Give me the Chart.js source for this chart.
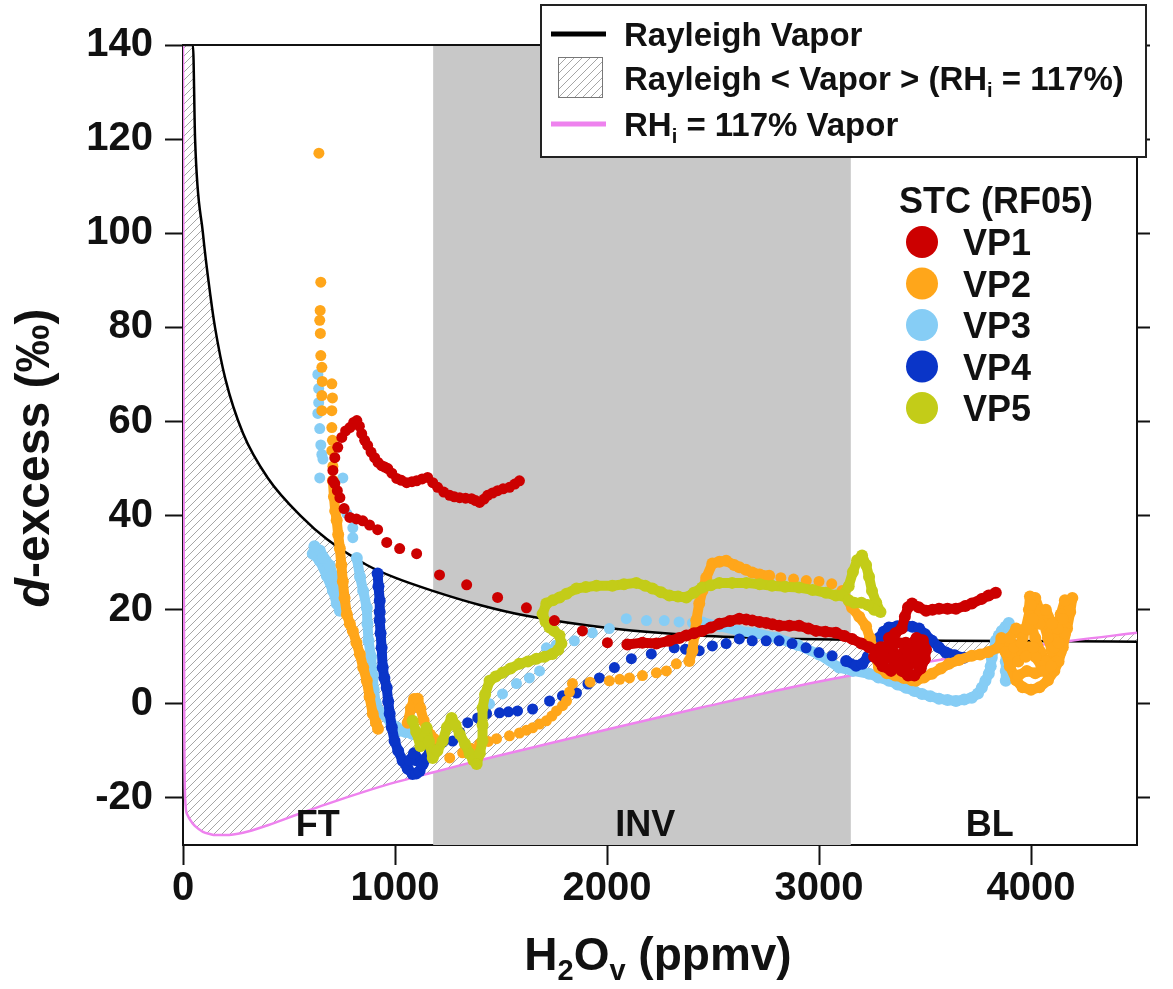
<!DOCTYPE html>
<html>
<head>
<meta charset="utf-8">
<script src="https://cdn.jsdelivr.net/npm/chart.js@4.4.1/dist/chart.umd.min.js"></script>
<style>
  body { margin: 0; background: #fff; }
  #wrap { width: 1173px; height: 989px; position: relative; }
</style>
</head>
<body>
<div id="wrap"><canvas id="dexChart"></canvas></div>
<script>
// axis ticks
const xTicks = [0, 1000, 2000, 3000, 4000];
const yTicks = [-20, 0, 20, 40, 60, 80, 100, 120, 140];

// FT / INV / BL layers
const layerEdges = [1180, 3150];
const layerNames = ['FT', 'INV', 'BL'];
const layerLabelX = [636, 2180, 3805];
const layerLabelY = -26;

// model curves
const h2oGrid = [0, 3, 6, 10, 20, 47, 57, 94, 130, 151, 200, 283, 400, 565, 678, 867, 1000, 1178, 1400, 1620, 2025, 2435, 2900, 3150, 3600, 4190, 4500];
const rayleighD = [140, 140, 140, 140, 140, 140, 120, 100, 86.5, 80, 69, 57.5, 48, 39.5, 35, 29.5, 26.8, 24, 21, 18.7, 16, 14.5, 13.8, 13.6, 13.4, 13.3, 13.2];
const rhiD = [140, 40, -5, -20, -23.5, -25.5, -26, -27.2, -27.7, -27.9, -27.9, -27.4, -25.8, -23.1, -21.3, -18.5, -16.7, -14.6, -12, -9.6, -5.2, -0.9, 3.8, 6, 9.6, 13.4, 15.1];

// VP1
const vp1Dots = [[707,49.6],[716,52.3],[730,54.5],[749,56.6],[767,58],[787,58.7],[805,59.8],[820,60.2],[832,59],[843,57.4],[857,56],[871,54.9],[887,53.5],[904,52.3],[920,51.3],[937,50.6],[952,50.3],[966,50],[985,49],[1008,47.9],[1030,47.5],[1055,47],[1080,47.2],[1102,47.4],[1128,47.8],[1154,48.1],[1178,47],[1201,46],[1230,45],[1258,44.3],[1280,44],[1305,43.8],[1333,43.7],[1361,43.6],[1380,43.2],[1399,42.8],[1420,43.5],[1437,44.3],[1460,44.8],[1484,45.3],[1510,45.7],[1540,46],[1565,46.7],[1587,47.4],
  [707,47.4],[716,46.8],[728,45.3],[740,43.8],[760,41.5],[787,39.6],[818,39.3],[848,38.9],[880,38],[918,37],[961,34.3],[1022,33],[1102,31.9],[1210,27.4],[1338,25.3],[1484,22.6],[1620,20.4],[1752,17.7],[1884,15.5],[2002,13]];
const vp1Path = [[2096,12.6],[2167,13],[2233,12.8],[2294,13.4],[2341,14],[2374,14.5],[2410,15],[2449,15.5],[2490,16.2],[2530,17],[2580,17.6],[2624,18.1],[2657,17.9],[2685,17.7],[2720,17.4],[2751,17.2],[2780,16.9],[2812,16.6],[2860,16.6],[2906,16.6],[2950,16],[2986,15.5],[3030,15.3],[3080,15.1],[3120,14.4],[3156,13.8],[3200,12.8],[3236,12],[3270,11.5],[3300,11],[3330,10],[3360,8.5],[3390,7],[3420,6],[3450,6],[3480,7.5],[3500,9.5],[3505,11.5],[3490,13.5],[3460,14],[3430,12.5],[3400,11],[3370,10],[3340,12],[3330,14],[3360,15],[3390,16],[3405,18.5],[3420,20.5],[3439,21.3],[3470,20.5],[3505,19.8],[3535,20],[3566,20.2],[3606,20.2],[3646,20.2],[3690,20.8],[3721,21.3],[3768,22.3],[3800,23],[3834,23.6]];
const vp1Blob = [[3260,10],[3300,8],[3340,7],[3380,8.5],[3420,8],[3460,9],[3480,11],[3450,12],[3410,13],[3370,13],[3330,12.5],[3290,12],[3300,9.5],[3350,10],[3440,10]];

// VP2
const vp2Dots = [[641,117],[650,89.6],[647,83.6],[645,81.5],[648,78.7],[650,74],[655,71.5],[657,68.5],[655,65.5],[655,62.3],[702,68],[705,65],[702,62.3],[702,58.7],[705,56],[702,53.8],[707,50.5],
  [1258,-11.5],[1319,-10.4],[1360,-9.5],[1399,-8.5],[1440,-8],[1479,-7.4],[1540,-6.8],[1587,-6.2],[1620,-5.6],[1649,-5.1],[1682,-4.3],[1714,-3.6],[1740,-2.6],[1762,-1.5],[1790,-0.4],[1809,0.6],[1823,2.5],[1837,4.3],[1920,4.6],[2011,4.9],[2060,5.2],[2106,5.5],[2167,6],[2233,6.6],[2280,7],[2327,8.5],
  [2820,26.8],[2880,26.5],[2940,26.2],[3000,26],[3060,25.5]];
const vp2Descent = [[707,47.4],[712,44],[718,41],[725,39],[732,36],[740,33],[747,29.5],[754,26],[762,22.5],[773,19],[787,17],[801,15.5],[818,13],[834,10.6],[850,7.7],[867,4.9],[880,1.5],[895,-2.1],[910,-4],[920,-5.3]];
const vp2Bump = [[1060,-4],[1075,-1],[1090,1],[1107,1.1],[1120,-1],[1135,-3.5],[1150,-5.5],[1165,-6.5],[1185,-7.5]];
const vp2Rise = [[2388,9.1],[2403,11.3],[2412,14.5],[2421,17.7],[2435,21.3],[2450,24],[2468,26.8],[2497,29.8],[2530,30.2],[2562,30.4],[2600,29.5],[2624,29],[2655,28.5],[2685,27.9],[2720,27.5],[2765,27.2]];
const vp2Drop = [[3110,24],[3156,20.4],[3190,18.5],[3222,16.5],[3240,14],[3260,11],[3283,7.7],[3320,6.5],[3360,6],[3400,5.5],[3439,5],[3457,4.9],[3495,5.6],[3533,6.4],[3575,7.5],[3613,8.5],[3660,9.3],[3721,10.2],[3760,10.5],[3800,11],[3848,12]];
const vp2Cluster = [[3848,12],[3860,14],[3880,11],[3900,8],[3930,5],[3960,3.5],[4000,3],[4040,3.5],[4080,5],[4110,7],[4130,9],[4150,12],[4170,16],[4185,19.5],[4195,22.5],[4180,20],[4160,15],[4140,11],[4120,9],[4098,11.3],[4080,14],[4060,17],[4040,20],[4020,22.5],[3995,22.8],[3990,20],[4000,17],[4020,14],[4045,11],[4070,9],[4050,8],[4020,10],[3990,12],[3960,11],[3940,9],[3920,12],[3900,14],[3930,16],[3960,14]];
const vp2Fill = [[3940,6],[3980,7],[4020,6.5],[4060,7],[4095,8],[4110,12],[4125,16],[4140,19],[4160,22],[4150,18],[4130,13],[4100,17],[4070,20],[4040,17],[4010,18],[4000,21],[3975,16],[3955,13],[3975,10],[4010,12]];

// VP3
const vp3Dots = [[636,70],[640,67],[640,64],[636,61.7],[645,58.5],[650,55],[655,53],[660,52],[645,48],[754,48],[773,40.4],[801,37.4],[801,35.3],
  [1446,0],[1507,2.1],[1573,4.3],[1634,5.5],[1682,7],[1714,11.9],[1760,12.5],[1846,13.4],[1931,15.1],[2011,16],[2091,18.1],[2186,17.7],[2270,17.7],[2340,17.4],[2403,17.2]];
const vp3Band = [[612,31.9],[645,30.4],[678,27.2],[707,24],[725,21.3],[740,19.8],[754,21.9],[725,25.1],[692,29.4],[645,32.6],[620,33.5],[660,31],[700,27],[730,23]];
const vp3Descent = [[820,31],[835,27],[850,24],[867,20.4],[870,17],[875,13.4],[887,10],[895,6],[900,3],[910,0],[925,-1.5],[942,-2.1],[980,-4],[1008,-5],[1022,-5.7],[1050,-6],[1083,-6.4]];
const vp3Right = [[2450,17.3],[2530,16.5],[2624,15.5],[2700,15],[2800,14],[2900,12.5],[3000,10.5],[3095,7.7],[3160,7],[3236,6.4],[3280,5.6],[3330,4.9],[3370,4.1],[3410,3.4],[3450,2.7],[3486,2.1],[3525,1.6],[3566,1.1],[3606,0.8],[3646,0.6],[3685,0.9],[3721,1.3],[3750,2.2],[3768,3.4],[3785,4.9],[3801,6.4],[3810,8],[3815,9.8],[3825,11.6],[3834,13.4],[3848,14.5],[3862,15.5],[3880,16.4],[3895,17.2],[3890,15],[3881,13.4],[3881,11],[3881,9],[3881,7],[3881,4.9]];

// VP4
const vp4Dots = [[1225,-8.2],[1272,-7.9],[1305,-6],[1343,-4],[1390,-3],[1432,-2.1],[1493,-1.9],[1535,-1.7],[1578,-1.5],[1649,-1.1],[1729,0.6],[1790,1.7],[1856,2.3],[1910,4.2],[1964,5.5],[2035,7.7],[2115,9.6],[2209,10.6],[2317,11.9],[2370,11.6],[2435,11.3],[2497,12.3],[2562,12.8],[2624,13.8],[2685,13.4],[2751,13.4],[2812,13.4],[2873,12.8],[2939,11.9],[3000,10.9],[3062,10.2]];
const vp4Descent = [[918,27.7],[922,25],[928,21.9],[928,19.5],[928,17.7],[932,15],[937,11.9],[942,7.7],[950,5.5],[961,3.4],[968,0.5],[975,-2.1],[985,-5],[998,-7.9],[1015,-10],[1036,-12.1],[1060,-13.8],[1083,-14.9],[1100,-14.8],[1116,-14.3],[1130,-12.8],[1100,-12],[1070,-12],[1090,-10.5],[1130,-12.8],[1149,-11.5],[1165,-10],[1178,-8.5]];
const vp4Right = [[3128,9.1],[3175,8.1],[3205,8.5],[3230,10],[3255,12],[3283,14],[3305,15.3],[3330,16.2],[3370,16.5],[3410,16.6],[3440,16.4],[3472,16],[3500,14.8],[3533,13.4],[3565,12],[3599,10.9],[3640,10.3],[3683,9.8]];

// VP5
const vp5Path = [[1083,-3.6],[1100,-6],[1120,-9],[1140,-7],[1149,-5.1],[1160,-8],[1178,-11.5],[1200,-10],[1225,-7.9],[1245,-5],[1267,-3],[1285,-4.5],[1305,-6.4],[1330,-8.5],[1352,-10.6],[1370,-12],[1385,-12.8],[1400,-10.5],[1413,-7.9],[1413,-4.5],[1413,-0.9],[1425,2],[1446,4.9],[1475,5.8],[1507,6.6],[1545,7.5],[1587,8.5],[1627,9],[1667,9.6],[1705,10],[1743,10.6],[1770,11.5],[1785,12.8],[1776,14.5],[1750,15.5],[1729,16.2],[1710,17.5],[1696,19.1],[1714,21.3],[1745,22],[1776,22.6],[1809,23.4],[1856,24.5],[1900,24.8],[1950,25.1],[2025,25.1],[2080,25.4],[2138,25.7],[2180,25.1],[2214,24.5],[2255,23.7],[2294,23],[2335,22.8],[2374,22.6],[2410,23.6],[2449,24.7],[2490,25.2],[2530,25.7],[2590,25.7],[2657,25.7],[2720,25.4],[2779,25.1],[2840,24.9],[2906,24.7],[2970,24.2],[3033,23.6],[3080,23],[3110,23],[3140,25],[3160,28],[3180,30.5],[3203,31.5],[3222,29.5],[3236,27],[3250,24],[3270,21.5],[3290,19.5],[3260,20],[3230,21],[3200,21.5],[3165,21.5],[3140,22]];

const vpNames = ['VP1', 'VP2', 'VP3', 'VP4', 'VP5'];
const vpColors = ['#cc0000', '#ffa61a', '#86cdf5', '#0a35c8', '#c3cc18'];

const FONT = '"Liberation Sans", Arial, sans-serif';
Chart.defaults.font.family = FONT;

const canvas = document.getElementById('dexChart');
const ctx = canvas.getContext('2d');

// diagonal hatch for the Rayleigh < vapor > RHi region
const tile = document.createElement('canvas');
tile.width = 8; tile.height = 8;
const tc = tile.getContext('2d');
tc.fillStyle = '#fff';
tc.fillRect(0, 0, 8, 8);
tc.strokeStyle = '#a6a6a6';
tc.lineWidth = 1;
tc.beginPath();
tc.moveTo(0, 8); tc.lineTo(8, 0);
tc.moveTo(-1, 1); tc.lineTo(1, -1);
tc.moveTo(7, 9); tc.lineTo(9, 7);
tc.stroke();
const hatch = ctx.createPattern(tile, 'repeat');

function toXY(pairs) {
    return pairs.map(p => ({x: p[0], y: p[1]}));
}
// several paths in one dataset, split by a null point
function joinPaths(paths) {
    const out = [];
    paths.forEach(p => {
        p.forEach(q => out.push({x: q[0], y: q[1]}));
        out.push({x: p[p.length - 1][0], y: null});
    });
    return out;
}
function pathSet(paths, color, order) {
    return {data: joinPaths(paths), borderColor: color, backgroundColor: color, borderWidth: 10,
        borderCapStyle: 'round', borderJoinStyle: 'round', pointRadius: 6, pointBorderWidth: 0,
        pointBackgroundColor: color, showLine: true, spanGaps: false, tension: 0, fill: false, order: order};
}
function dotSet(pairs, color, order) {
    return {data: toXY(pairs), borderColor: color, backgroundColor: color, pointRadius: 5.5,
        pointBorderWidth: 0, pointBackgroundColor: color, showLine: false, fill: false, order: order};
}

// subscript / italic aware text
function drawRuns(c, runs, x, y, size, align) {
    const fontFor = st => (st === 'i' ? 'italic ' : '') + 'bold ' + (st === 's' ? Math.round(size * 0.62) : size) + 'px ' + FONT;
    let total = 0;
    runs.forEach(r => { c.font = fontFor(r[1]); total += c.measureText(r[0]).width; });
    let cx = align === 'center' ? x - total / 2 : x;
    c.textAlign = 'left';
    c.textBaseline = 'alphabetic';
    runs.forEach(r => {
        c.font = fontFor(r[1]);
        c.fillText(r[0], cx, r[1] === 's' ? y + size * 0.22 : y);
        cx += c.measureText(r[0]).width;
    });
}

const decorPlugin = {
    id: 'decor',
    beforeDatasetsDraw(chart) {
        const {ctx: c, chartArea: a, scales: {x}} = chart;
        const x0 = x.getPixelForValue(layerEdges[0]);
        const x1 = x.getPixelForValue(layerEdges[1]);
        c.save();
        c.fillStyle = '#c8c8c8';
        c.fillRect(x0, a.top, x1 - x0, a.bottom - a.top);
        c.restore();
    },
    afterDatasetsDraw(chart) {
        const {ctx: c, chartArea: a, scales: {x, y}} = chart;
        c.save();
        // frame top
        c.strokeStyle = '#111';
        c.lineWidth = 2;
        c.beginPath();
        c.moveTo(a.left, a.top);
        c.lineTo(a.right, a.top);
        c.stroke();

        c.fillStyle = '#111';
        c.font = 'bold 36px ' + FONT;
        c.textAlign = 'center';
        c.textBaseline = 'middle';
        layerNames.forEach((n, i) => c.fillText(n, x.getPixelForValue(layerLabelX[i]), y.getPixelForValue(layerLabelY)));

        // axis titles
        drawRuns(c, [['H', 'n'], ['2', 's'], ['O', 'n'], ['v', 's'], [' (ppmv)', 'n']], 658, 970, 46, 'center');
        c.translate(49, 458);
        c.rotate(-Math.PI / 2);
        drawRuns(c, [['d', 'i'], ['-excess (‰)', 'n']], 0, 0, 48, 'center');
        c.restore();

        // model legend
        c.save();
        c.fillStyle = '#fff';
        c.fillRect(541, 5, 605, 152);
        c.strokeStyle = '#222';
        c.lineWidth = 2;
        c.strokeRect(541, 5, 605, 152);
        c.lineWidth = 5;
        c.strokeStyle = '#000';
        c.beginPath(); c.moveTo(551, 34); c.lineTo(606, 34); c.stroke();
        c.strokeStyle = '#ee82ee';
        c.beginPath(); c.moveTo(551, 124); c.lineTo(606, 124); c.stroke();
        c.fillStyle = hatch;
        c.fillRect(558, 57, 44, 40);
        c.strokeStyle = '#777';
        c.lineWidth = 1;
        c.strokeRect(558.5, 57.5, 44, 40);
        c.fillStyle = '#111';
        drawRuns(c, [['Rayleigh Vapor', 'n']], 624, 46, 33, 'left');
        drawRuns(c, [['Rayleigh < Vapor > (RH', 'n'], ['i', 's'], [' = 117%)', 'n']], 624, 90, 33, 'left');
        drawRuns(c, [['RH', 'n'], ['i', 's'], [' = 117% Vapor', 'n']], 624, 136, 33, 'left');

        // flight legend
        drawRuns(c, [['STC (RF05)', 'n']], 899, 213, 36, 'left');
        vpNames.forEach((n, i) => {
            const cy = 242 + i * 41.5;
            c.fillStyle = vpColors[i];
            c.beginPath();
            c.arc(922, cy, 16, 0, Math.PI * 2);
            c.fill();
            c.fillStyle = '#111';
            drawRuns(c, [[n, 'n']], 963, cy + 13, 36, 'left');
        });
        c.restore();
    }
};

const tickFont = {size: 40, weight: 'bold', family: FONT, lineHeight: 1.1};

new Chart(ctx, {
    type: 'line',
    data: {
        datasets: [
            {data: h2oGrid.map((h, i) => ({x: h, y: rayleighD[i]})), borderColor: '#000', borderWidth: 2.5,
                pointRadius: 0, cubicInterpolationMode: 'monotone', fill: '+1', backgroundColor: hatch, order: 30},
            {data: h2oGrid.map((h, i) => ({x: h, y: rhiD[i]})), borderColor: '#ee82ee', borderWidth: 2.5,
                pointRadius: 0, cubicInterpolationMode: 'monotone', fill: false, order: 29},
            pathSet([vp3Band, vp3Descent, vp3Right], vpColors[2], 11),
            dotSet(vp3Dots, vpColors[2], 10),
            pathSet([vp4Descent, vp4Right], vpColors[3], 9),
            dotSet(vp4Dots, vpColors[3], 8),
            pathSet([vp2Descent, vp2Bump, vp2Rise, vp2Drop, vp2Cluster, vp2Fill], vpColors[1], 7),
            dotSet(vp2Dots, vpColors[1], 6),
            pathSet([vp5Path], vpColors[4], 5),
            pathSet([vp1Path, vp1Blob], vpColors[0], 2),
            dotSet(vp1Dots, vpColors[0], 1)
        ]
    },
    options: {
        responsive: true,
        maintainAspectRatio: false,
        animation: false,
        events: [],
        layout: {padding: {top: 45, left: 0, right: 0, bottom: 0}},
        plugins: {legend: {display: false}, tooltip: {enabled: false}},
        scales: {
            x: {
                type: 'linear', position: 'bottom', min: 0, max: 4500,
                afterBuildTicks: s => { s.ticks = xTicks.map(v => ({value: v})); },
                afterFit: s => { s.height = 144; },
                ticks: {font: tickFont, color: '#111', padding: 2, maxRotation: 0, callback: v => String(v)},
                grid: {drawOnChartArea: false, drawTicks: true, tickLength: 20, tickWidth: 2, tickColor: '#111'},
                border: {display: true, color: '#111', width: 2}
            },
            y: {
                type: 'linear', position: 'left', min: -30, max: 140,
                afterBuildTicks: s => { s.ticks = yTicks.map(v => ({value: v})); },
                afterFit: s => { s.width = 183; },
                ticks: {font: tickFont, color: '#111', padding: 12, callback: v => String(v)},
                grid: {drawOnChartArea: false, drawTicks: true, tickLength: 18, tickWidth: 2, tickColor: '#111'},
                border: {display: true, color: '#111', width: 2}
            },
            y2: {
                type: 'linear', position: 'right', min: -30, max: 140,
                afterBuildTicks: s => { s.ticks = yTicks.map(v => ({value: v})); },
                afterFit: s => { s.width = 36; },
                ticks: {display: false},
                grid: {drawOnChartArea: false, drawTicks: true, tickLength: 13, tickWidth: 2, tickColor: '#111'},
                border: {display: true, color: '#111', width: 2}
            }
        }
    },
    plugins: [decorPlugin]
});
</script>
</body>
</html>
